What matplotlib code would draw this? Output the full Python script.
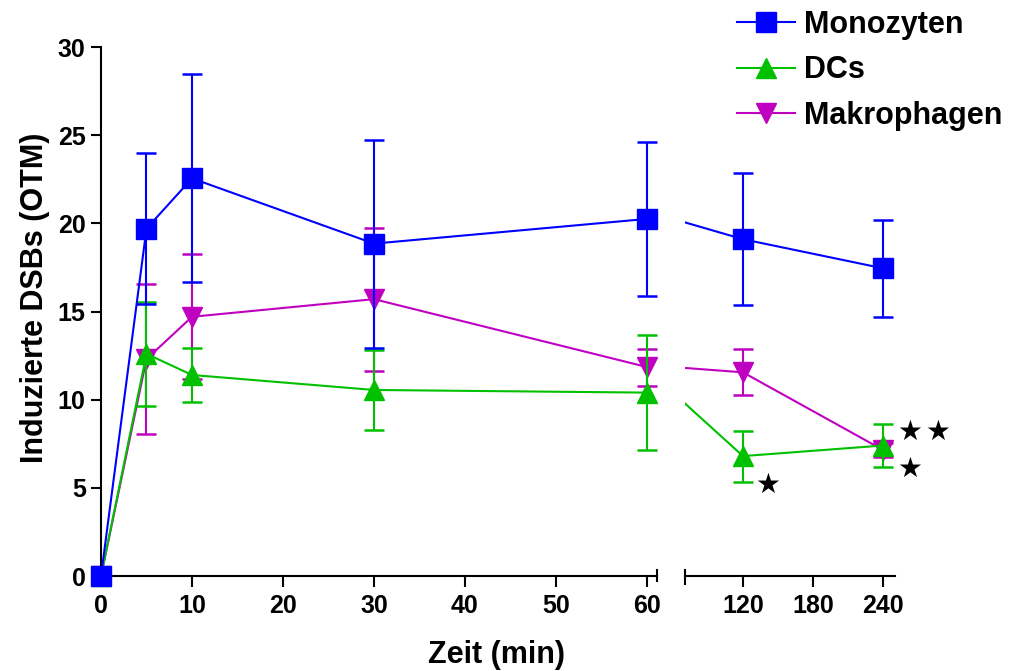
import matplotlib
matplotlib.use("Agg")
import matplotlib.pyplot as plt
from matplotlib.lines import Line2D

plt.rcParams['font.family'] = ['Liberation Sans', 'DejaVu Sans']
plt.rcParams['font.weight'] = 'bold'

# data (Zeit in min)
times = [0, 5, 10, 30, 60, 120, 240]
mono = [0, 19.7, 22.55, 18.85, 20.25, 19.1, 17.45]
mono_err = [0, 4.3, 5.9, 5.9, 4.35, 3.75, 2.75]
dcs = [0, 12.6, 11.4, 10.55, 10.4, 6.8, 7.4]
dcs_err = [0, 2.95, 1.55, 2.27, 3.27, 1.45, 1.2]
mak = [0, 12.3, 14.7, 15.7, 11.85, 11.55, 7.15]
mak_err = [0, 4.25, 3.55, 4.05, 1.05, 1.3, 0.4]

left_ticks = [0, 10, 20, 30, 40, 50, 60]
right_ticks = [120, 180, 240]
y_ticks = [0, 5, 10, 15, 20, 25, 30]

series = [
    ('Makrophagen', mak, mak_err, '#C000C0', 'v', 1),
    ('DCs', dcs, dcs_err, '#00C000', '^', 2),
    ('Monozyten', mono, mono_err, '#0000FF', 's', 3),
]
# significance stars, in data coords of the right axes
stars = [(140.8, 5.15), (262.5, 8.15), (286.5, 8.15), (262.5, 6.05)]

W, H = 1014, 671
fig = plt.figure(figsize=(W / 100, H / 100), dpi=100)
y0, y1 = 576, 47
ax1 = fig.add_axes([101 / W, 1 - y0 / H, 556 / W, (y0 - y1) / H])
ax2 = fig.add_axes([685 / W, 1 - y0 / H, 210 / W, (y0 - y1) / H])

for ax in (ax1, ax2):
    ax.set_ylim(0, 30)
    ax.spines['top'].set_visible(False)
    ax.spines['right'].set_visible(False)
    ax.spines['bottom'].set_linewidth(1.5)
    ax.spines['left'].set_linewidth(1.5)
    ax.patch.set_visible(False)
    ax.tick_params(axis='x', direction='out', length=8, width=1.5, labelsize=18, pad=5)

ax1.set_xlim(0, 61.1)
ax2.set_xlim(70.3, 250.3)
ax1.set_xticks(left_ticks)
ax2.set_xticks(right_ticks)
ax1.set_yticks(y_ticks)
ax1.tick_params(axis='y', direction='out', length=7, width=1.5, labelsize=18, pad=4)
ax2.spines['left'].set_visible(False)
ax2.set_yticks([])

for name, vals, errs, col, mk, z in series:
    ax1.errorbar(times[:5], vals[:5], yerr=errs[:5], color=col, marker=mk, ms=14.5,
                 lw=1.5, elinewidth=1.5, capsize=7, capthick=1.8, clip_on=False, zorder=z)
    ax2.errorbar(times[4:], vals[4:], yerr=errs[4:], color=col, marker=mk, ms=14.5,
                 lw=1.5, elinewidth=1.5, capsize=7, capthick=1.8, zorder=z)

# axis break marks
ax1.plot([1, 1], [-0.01, 0.011], transform=ax1.transAxes, color='black', lw=1.5, clip_on=False)
ax2.plot([0, 0], [-0.015, 0.011], transform=ax2.transAxes, color='black', lw=1.5, clip_on=False)

for sx, sy in stars:
    ax2.text(sx, sy, '\u2605', family='DejaVu Sans', fontsize=20, ha='center', va='center',
             clip_on=False)

fig.text(496 / W, 1 - 655 / H, 'Zeit (min)', fontsize=22, fontweight='bold', ha='center', va='center')
fig.text(35 / W, 1 - 298 / H, 'Induzierte DSBs (OTM)', fontsize=22, fontweight='bold',
         ha='center', va='center', rotation=90)

handles = [Line2D([], [], color=c, marker=m, ms=14.5, lw=1.5) for _, _, _, c, m, _ in series[::-1]]
labels = [s[0] for s in series[::-1]]
fig.legend(handles, labels, loc='upper left', bbox_to_anchor=(737 / W, 1 - 10 / H),
           frameon=False, fontsize=22, handlelength=1.9, handletextpad=0.3,
           labelspacing=0.5, borderpad=0, borderaxespad=0)

fig.savefig('out.png', dpi=100)
